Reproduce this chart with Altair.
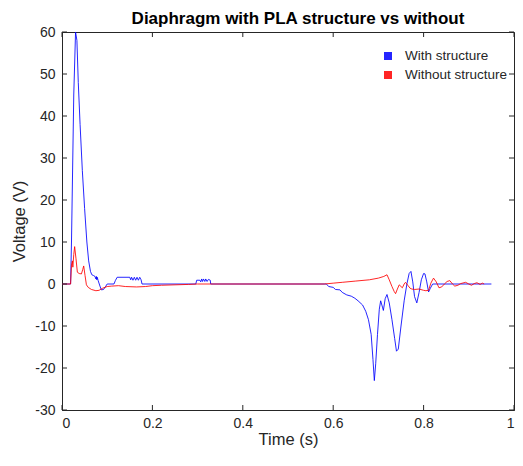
import altair as alt
import pandas as pd

# ---- data ----
t_with = [0, 0.019, 0.021, 0.026, 0.030, 0.033, 0.036, 0.040, 0.045, 0.050, 0.055, 0.059,
          0.063, 0.066, 0.070, 0.073, 0.075, 0.076, 0.077, 0.078, 0.080, 0.084, 0.087, 0.092,
          0.097, 0.100, 0.115, 0.118, 0.122, 0.150, 0.152, 0.154, 0.157, 0.160, 0.163, 0.166,
          0.169, 0.172, 0.175, 0.177, 0.296, 0.298, 0.305, 0.307, 0.309, 0.311, 0.313, 0.316,
          0.318, 0.321, 0.324, 0.328, 0.329, 0.585, 0.590, 0.600, 0.605, 0.615, 0.620, 0.630,
          0.640, 0.648, 0.655, 0.665, 0.672, 0.678, 0.684, 0.688, 0.691, 0.694, 0.698, 0.702,
          0.705, 0.709, 0.711, 0.715, 0.719, 0.724, 0.730, 0.736, 0.740, 0.744, 0.750, 0.757,
          0.763, 0.768, 0.772, 0.776, 0.780, 0.785, 0.790, 0.795, 0.800, 0.803, 0.807, 0.811,
          0.815, 0.820, 0.950]
v_with = [0, 0, 10, 45, 60, 58, 48, 38, 27, 18, 10, 5.5,
          3.0, 2.2, 2.0, 1.8, 1.2, 1.8, 1.0, 1.6, 0.8, -0.5, -1.4, -1.3,
          -0.5, 0.0, 0.0, 0.8, 1.6, 1.6, 1.0, 1.6, 0.9, 1.6, 0.9, 1.6,
          0.9, 1.6, 1.0, 0.0, 0.0, 0.9, 0.9, 0.5, 1.2, 0.6, 1.2, 0.6,
          1.2, 0.6, 1.1, 0.9, 0.0, 0.0, -0.6, -0.8, -1.3, -1.4, -2.0, -2.6,
          -2.9, -3.4, -4.0, -5.0, -6.5, -8.5, -12, -18, -23, -19, -12, -6,
          -4, -5.5, -6.3, -3.5, -2.5, -4.5, -8.5, -13, -16, -15.5, -10, -4,
          0, 2.5, 3.0, 0.5, -3, -4.5, -2, 1, 2.5, 2.4, 0.5, -1.9,
          -1.0, 0, 0]

t_without = [0, 0.019, 0.021, 0.023, 0.024, 0.026, 0.028, 0.031, 0.034, 0.038, 0.043, 0.046,
             0.048, 0.051, 0.054, 0.058, 0.065, 0.075, 0.082, 0.090, 0.100, 0.110, 0.125, 0.140,
             0.165, 0.185, 0.200, 0.220, 0.250, 0.280, 0.300, 0.580, 0.600, 0.620, 0.650, 0.680,
             0.700, 0.712, 0.719, 0.724, 0.730, 0.735, 0.738, 0.742, 0.746, 0.750, 0.753, 0.757,
             0.760, 0.765, 0.770, 0.774, 0.780, 0.790, 0.800, 0.805, 0.811, 0.816, 0.822, 0.828,
             0.834, 0.840, 0.846, 0.852, 0.858, 0.864, 0.869, 0.876, 0.882, 0.893, 0.900, 0.906,
             0.912, 0.918, 0.925, 0.930, 0.934]
v_without = [0, 0, 4.5, 5.5, 4.0, 7, 8.9, 6, 2.8, 2.5, 2.4, 3.5,
             4.3, 2, -0.2, -0.8, -1.3, -1.6, -1.5, -1.0, -0.6, -0.5, -0.4, -0.6,
             -0.7, -0.6, -0.4, -0.3, -0.2, -0.1, 0, 0, 0.2, 0.4, 0.7, 1.0,
             1.4, 1.8, 2.2, 1.0, -0.6, -1.8, -2.3, -1.2, -0.2, -0.6, -0.9, 0.0,
             0.4, -0.3, -1.0, -1.2, -1.3, -1.2, -1.5, -1.6, -1.5, 0.2, 1.4, 0.5,
             -0.9, -0.7, 0.0, 0.6, 0.8, 0.0, -0.5, -0.3, 0.1, 0.4, 0.0, -0.3,
             0.1, 0.3, -0.1, 0.2, 0.0]

series_names = ["With structure", "Without structure"]
series_colors = ["#0000ff", "#ff0000"]
x_ticks = [0, 0.2, 0.4, 0.6, 0.8, 1.0]
y_ticks = [-30, -20, -10, 0, 10, 20, 30, 40, 50, 60]

df = pd.concat([
    pd.DataFrame({"t": t_with, "v": v_with, "series": series_names[0], "order": range(len(t_with))}),
    pd.DataFrame({"t": t_without, "v": v_without, "series": series_names[1], "order": range(len(t_without))}),
])

W, H = 452, 378
AX = "#262626"
FONT = "Liberation Sans"

xscale = alt.Scale(domain=[0, 1], nice=False, zero=False)
yscale = alt.Scale(domain=[-30, 60], nice=False, zero=False)

lines = alt.Chart(df).mark_line(strokeWidth=1, opacity=0.85).encode(
    x=alt.X("t:Q", scale=xscale,
            axis=alt.Axis(title="Time (s)", values=x_ticks, tickSize=0, grid=False,
                          labelExpr="'' + datum.value", labelPadding=6, titlePadding=1)),
    y=alt.Y("v:Q", scale=yscale,
            axis=alt.Axis(title="Voltage (V)", values=y_ticks, tickSize=0, grid=False,
                          labelExpr="'' + datum.value", labelPadding=7, titlePadding=7)),
    color=alt.Color("series:N", scale=alt.Scale(domain=series_names, range=series_colors),
                    legend=alt.Legend(title=None, orient="none", legendX=318, legendY=17,
                                      symbolType="stroke", symbolSize=64, symbolStrokeWidth=8,
                                      clipHeight=14,
                                      labelFontSize=13.5, labelFont=FONT, labelColor=AX,
                                      labelOffset=9, rowPadding=5)),
    order="order:Q",
)

xt = pd.DataFrame({"t": x_ticks})
yt = pd.DataFrame({"v": y_ticks})
tick_bottom = alt.Chart(xt).mark_rule(color=AX, strokeWidth=1).encode(
    x=alt.X("t:Q", scale=xscale), y=alt.value(H), y2=alt.value(H - 5))
tick_top = alt.Chart(xt).mark_rule(color=AX, strokeWidth=1).encode(
    x=alt.X("t:Q", scale=xscale), y=alt.value(0), y2=alt.value(5))
tick_left = alt.Chart(yt).mark_rule(color=AX, strokeWidth=1).encode(
    y=alt.Y("v:Q", scale=yscale), x=alt.value(0), x2=alt.value(5))
tick_right = alt.Chart(yt).mark_rule(color=AX, strokeWidth=1).encode(
    y=alt.Y("v:Q", scale=yscale), x=alt.value(W), x2=alt.value(W - 5))

chart = alt.layer(lines, tick_bottom, tick_top, tick_left, tick_right).properties(
    width=W, height=H,
    title=alt.Title("Diaphragm with PLA structure vs without", fontSize=17, fontWeight="bold",
                    font=FONT, color="#000000", anchor="middle", offset=-3, dx=10),
    autosize=alt.AutoSizeParams(type="none"),
    padding={"left": 54, "top": 24, "right": 1, "bottom": 42},
    background="white",
).configure_view(
    stroke=AX, strokeWidth=1
).configure_axis(
    domainColor=AX, labelColor=AX, titleColor=AX, labelFont=FONT, titleFont=FONT,
    labelFontSize=14, titleFontSize=16.5, titleFontWeight="normal"
)

chart.save("out.html", embed_options={"renderer": "svg", "actions": False})
